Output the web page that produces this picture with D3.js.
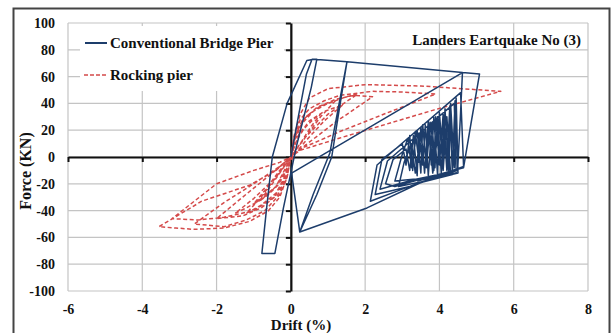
<!DOCTYPE html>
<html>
<head>
<meta charset="utf-8">
<script src="https://cdn.jsdelivr.net/npm/d3@7"></script>
<style>
  body { margin: 0; background: #fff; }
  svg { display: block; }
  svg text { font-family: "Liberation Serif", "DejaVu Serif", "Times New Roman", serif; font-weight: bold; fill: #111; }
</style>
</head>
<body>
<svg id="chart" width="611" height="333"></svg>
<script>
// tick values
const xTicks = [-6, -4, -2, 0, 2, 4, 6, 8];
const yTicks = [-100, -80, -60, -40, -20, 0, 20, 40, 60, 80, 100];

// drift (%) , force (kN)
const conventionalPier = [
  [0,0],[0.2,30],[0.42,62],[0.57,73],[0.7,73],[0.55,52],[0.15,8],[-0.2,-38],[-0.43,-72],[-0.78,-72],
  [-0.66,-40],[-0.5,0],[-0.1,40],[0.43,72],[0.62,73],
  [1.51,71],[1.3,35],[1.1,0],[0.7,-28],[0.24,-56],[0.6,-28],[1.05,3],[1.51,71],[4.62,63],[4.56,28],[4.49,-10],
  [3.0,-24],[2.14,-33],[2.32,-6],[4.57,48],[4.65,-7],[3.2,-22],[2.27,-28],[2.45,-2],[3.0,10],[3.1,-6],
  [3.2,16],[3.28,-10],[3.35,19],[3.45,-4],[3.5,22],[3.6,-12],[3.7,27],[3.78,-6],[3.85,30],[3.95,-14],
  [4.0,33],[4.1,-4],[4.15,36],[4.25,-12],[4.3,40],[4.4,-8],[4.45,44],[4.5,-10],[3.3,-17],[2.4,-24],
  [2.6,-3],[4.4,40],[4.45,-12],[3.5,-16],[2.8,-18],[3.0,2],[3.15,14],[3.25,-8],[3.4,20],[3.5,-12],
  [3.55,24],[3.65,-8],[3.75,26],[3.85,-10],[3.9,30],[4.0,-6],[4.1,32],[4.2,-10],[4.3,22],[4.35,-13],
  [3.5,-19],[2.05,-38],[0.24,-56],[0.02,-12],[4.62,63],[5.08,62],[4.85,25],[4.65,-8],
  [3.7,-15],[2.8,-22],[2.55,-20],[2.75,-2],[3.1,6],[3.2,-10],[3.3,16],[3.4,-14],[3.45,18],[3.55,-6],
  [3.62,24],[3.7,-14],[3.8,26],[3.88,-8],[3.95,30],[4.05,-12],[4.12,28],[4.2,-6],[4.28,38],[4.35,-10],
  [4.42,42],[4.5,-12],[3.6,-18],[2.9,-22],[3.05,-4],[3.25,10],[3.35,-12],[3.5,18],[3.6,-10],[3.72,20],
  [3.82,-12],[4.0,26],[4.1,-10],[4.2,30],[4.3,-12],[3.4,-18]
];

const rockingPier = [
  [0,0],[0.15,12],[0.35,21],[0.6,28],[0.8,32],[0.55,23],[0.3,12],[0.1,4],[0,0],[-0.15,-12],[-0.35,-21],
  [-0.6,-28],[-0.85,-33],[-0.6,-24],[-0.3,-12],[-0.1,-4],[0,0],
  [0.1,12],[0.3,25],[0.6,34],[1.0,40],[1.2,42],[0.8,30],[0.4,15],[0.1,4],[0,0],[-0.15,-14],[-0.4,-27],
  [-0.8,-36],[-1.2,-42],[-0.8,-30],[-0.4,-15],[-0.1,-4],[0,0],
  [0.1,14],[0.3,27],[0.7,37],[1.2,43],[1.7,46],[2.2,45],[1.2,26],[0.4,9],[0,0],
  [-0.1,-14],[-0.35,-28],[-0.8,-38],[-1.3,-44],[-2.0,-46],[-1.3,-30],[-0.5,-12],[0,0],
  [0.1,15],[0.25,28],[0.5,36],[0.9,42],[1.32,46],[2.2,49],[3.0,48.5],[3.9,47],[2.6,33],[1.32,19],[0.25,6],[0,0],
  [-0.1,-15],[-0.3,-28],[-0.7,-40],[-1.2,-47],[-1.8,-52],[-2.6,-50],[-1.8,-34],[-1.0,-20],[-0.3,-7],[0,0],
  [0.08,15],[0.25,32],[0.5,44],[1.0,51],[2.0,54],[3.5,53],[4.6,51],[5.65,49],[3.84,35],[1.3,14],[0.25,5],[0,0],
  [-0.1,-15],[-0.3,-30],[-0.6,-40],[-1.1,-48],[-1.8,-53],[-2.6,-54],[-3.1,-53],[-3.55,-52],[-2.4,-33],
  [-1.11,-21],[-0.4,-10],[0,0],
  [-0.15,-16],[-0.45,-30],[-1.0,-40],[-1.8,-45],[-2.5,-47],[-3.2,-46],[-2.0,-20],[-1.0,-10],[-0.3,-4],[0,0],
  [0.15,18],[0.4,30],[0.8,38],[1.5,45],[1.8,47],[1.0,32],[0.4,15],[0.1,4],[-0.1,-6],[-0.4,-22],[-0.8,-32],
  [-1.2,-38],[-1.5,-42],[-1.0,-31],[-0.4,-15],[-0.1,-4],[0,0],
  [0.2,16],[0.5,27],[0.9,34],[1.4,39],[0.9,27],[0.4,12],[0.1,2],[-0.1,-8],[-0.4,-22],[-0.8,-31],[-1.0,-35],
  [-0.7,-25],[-0.3,-10],[0,0]
];

const blue = "#1d3d6b";
const red = "#d44a4a";

const svg = d3.select("#chart");

const x = d3.scaleLinear().domain([-6, 8]).range([68, 588]);
const y = d3.scaleLinear().domain([-100, 100]).range([291, 23]);

// outer frame
svg.append("rect")
  .attr("x", 13.5).attr("y", 8.5)
  .attr("width", 596).attr("height", 340)
  .attr("fill", "#fff")
  .attr("stroke", "#444")
  .attr("stroke-width", 2);

// grid
const grid = svg.append("g").attr("stroke", "#c4c4c4").attr("stroke-width", 1.2);
grid.selectAll(".gx").data(xTicks).join("line")
  .attr("x1", d => x(d)).attr("x2", d => x(d))
  .attr("y1", y(100)).attr("y2", y(-100));
grid.selectAll(".gy").data(yTicks).join("line")
  .attr("x1", x(-6)).attr("x2", x(8))
  .attr("y1", d => y(d)).attr("y2", d => y(d));

// tick labels around the plot area
const yLabels = svg.append("g")
  .attr("transform", "translate(" + x(-6) + ",0)")
  .call(d3.axisLeft(y).tickValues(yTicks).tickSize(0).tickPadding(13).tickFormat(d => String(d)));
yLabels.select(".domain").remove();

const xLabels = svg.append("g")
  .attr("transform", "translate(0," + y(-100) + ")")
  .call(d3.axisBottom(x).tickValues(xTicks).tickSize(0).tickPadding(13).tickFormat(d => String(d)));
xLabels.select(".domain").remove();

[xLabels, yLabels].forEach(a => a.attr("font-family", null).attr("font-size", 14));

// black axes through the origin
const yAxis = svg.append("g")
  .attr("transform", "translate(" + x(0) + ",0)")
  .call(d3.axisLeft(y).tickValues(yTicks).tickSize(5).tickSizeOuter(0).tickFormat(""));
const xAxis = svg.append("g")
  .attr("transform", "translate(0," + y(0) + ")")
  .call(d3.axisBottom(x).tickValues(xTicks.filter(d => d !== 0)).tickSize(5).tickSizeOuter(0).tickFormat(""));
[xAxis, yAxis].forEach(a => {
  a.select(".domain").attr("stroke", "#111").attr("stroke-width", 2.2);
  a.selectAll(".tick line").attr("stroke", "#111").attr("stroke-width", 2);
});

// data
const line = d3.line().x(d => x(d[0])).y(d => y(d[1]));

svg.append("path")
  .datum(rockingPier)
  .attr("d", line)
  .attr("fill", "none")
  .attr("stroke", red)
  .attr("stroke-width", 1.5)
  .attr("stroke-dasharray", "4,2.5")
  .attr("stroke-linejoin", "round");

svg.append("path")
  .datum(conventionalPier)
  .attr("d", line)
  .attr("fill", "none")
  .attr("stroke", blue)
  .attr("stroke-width", 1.5)
  .attr("stroke-linejoin", "round");

// legend
const legend = svg.append("g");
legend.append("rect")
  .attr("x", 80).attr("y", 26).attr("width", 204).attr("height", 65)
  .attr("fill", "#fff");
legend.append("line")
  .attr("x1", 85).attr("x2", 107).attr("y1", 43).attr("y2", 43)
  .attr("stroke", blue).attr("stroke-width", 2);
legend.append("text")
  .attr("x", 110).attr("y", 48)
  .attr("font-size", 15)
  .text("Conventional Bridge Pier");
legend.append("line")
  .attr("x1", 84).attr("x2", 108).attr("y1", 75).attr("y2", 75)
  .attr("stroke", red).attr("stroke-width", 1.6).attr("stroke-dasharray", "4,2");
legend.append("text")
  .attr("x", 110).attr("y", 80)
  .attr("font-size", 15)
  .text("Rocking pier");

// title in the corner
svg.append("text")
  .attr("x", 581).attr("y", 45)
  .attr("text-anchor", "end")
  .attr("font-size", 15)
  .text("Landers Eartquake No (3)");

// axis titles
svg.append("text")
  .attr("transform", "translate(31,171) rotate(-90)")
  .attr("text-anchor", "middle")
  .attr("font-size", 16)
  .text("Force (KN)");
svg.append("text")
  .attr("x", 301).attr("y", 330)
  .attr("text-anchor", "middle")
  .attr("font-size", 15)
  .text("Drift (%)");
</script>
</body>
</html>
